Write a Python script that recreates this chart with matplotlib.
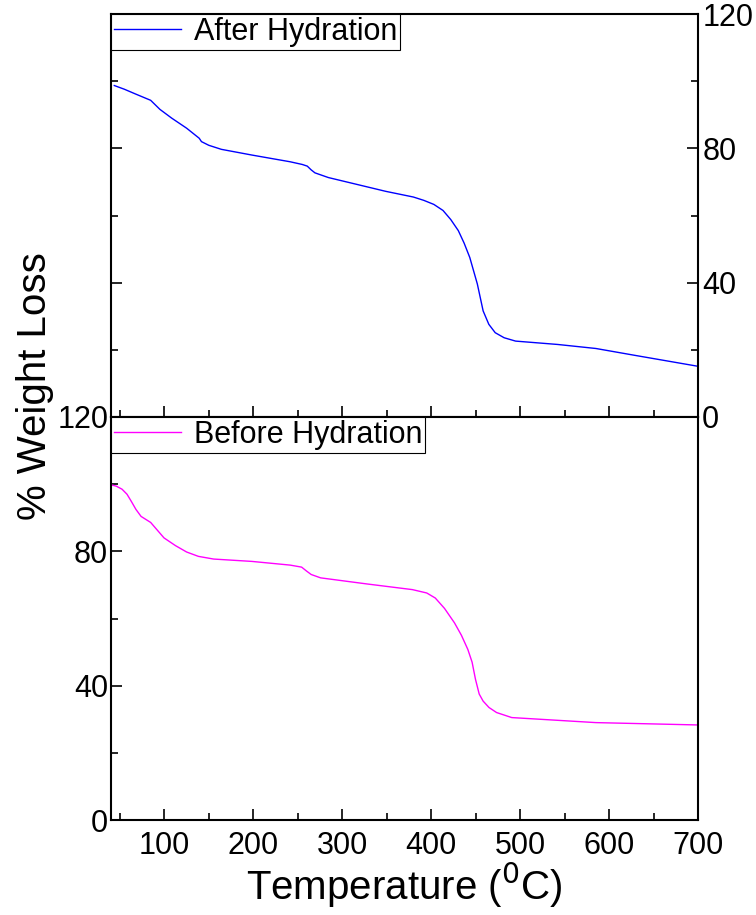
import numpy as np
import matplotlib.pyplot as plt
from matplotlib.ticker import MultipleLocator

plt.rcParams['font.family'] = ['Liberation Sans', 'DejaVu Sans']

# TGA curves
temp_after = [43.7, 55.0, 67.4, 84.6, 95.0, 108.2, 125.0, 139.2, 141.7, 150.0,
              164.1, 198.4, 241.4, 255.0, 260.7, 265.0, 269.3, 284.4, 348.8, 380.0,
              391.8, 403.0, 413.3, 422.0, 430.5, 437.0, 443.4, 451.9, 458.4, 464.8,
              472.0, 482.0, 494.9, 542.2, 585.2, 628.1, 700.0]
wt_after = [98.7, 97.6, 96.2, 94.3, 91.6, 89.0, 86.0, 83.0, 82.0, 80.9,
            79.7, 78.0, 76.0, 75.2, 74.7, 73.6, 72.7, 71.3, 67.2, 65.5,
            64.5, 63.3, 61.5, 58.8, 55.5, 51.8, 47.5, 39.6, 31.6, 27.6,
            25.1, 23.6, 22.6, 21.6, 20.4, 18.4, 15.1]

temp_before = [40.2, 46.0, 52.4, 58.0, 63.0, 68.0, 73.8, 84.6, 99.6, 112.5,
               125.0, 138.3, 155.4, 198.4, 241.4, 254.3, 260.0, 265.1, 275.7, 327.4,
               378.9, 395.0, 404.6, 415.0, 426.2, 434.0, 441.2, 446.0, 449.8, 454.0,
               458.4, 465.0, 473.5, 490.6, 585.2, 700.0]
wt_before = [99.8, 99.4, 98.5, 97.0, 94.8, 92.5, 90.4, 88.6, 84.0, 81.7,
             79.8, 78.5, 77.7, 77.0, 75.9, 75.3, 74.1, 73.1, 72.1, 70.3,
             68.6, 67.6, 66.1, 63.0, 58.7, 55.0, 50.8, 47.0, 41.9, 37.5,
             35.4, 33.5, 32.0, 30.5, 29.0, 28.3]

labels = ["After Hydration", "Before Hydration"]
colors = ["#0000ff", "#ff00ff"]

fig = plt.figure(figsize=(7.56, 9.15), dpi=100)
left, width = 111 / 756, 587 / 756
ax1 = fig.add_axes([left, 1 - 417 / 915, width, 403 / 915])
ax2 = fig.add_axes([left, 1 - 820 / 915, width, 403 / 915])

ax1.plot(temp_after, wt_after, color=colors[0], lw=1.0, label=labels[0])
ax2.plot(temp_before, wt_before, color=colors[1], lw=1.0, label=labels[1])

for ax in (ax1, ax2):
    ax.set_xlim(40, 700)
    ax.set_ylim(0, 120)
    ax.xaxis.set_major_locator(MultipleLocator(100))
    ax.xaxis.set_minor_locator(MultipleLocator(50))
    ax.yaxis.set_major_locator(MultipleLocator(40))
    ax.yaxis.set_minor_locator(MultipleLocator(20))
    for s in ax.spines.values():
        s.set_linewidth(1.5)
    leg = ax.legend(loc="upper left", borderaxespad=0, fontsize=22, handlelength=2.2,
                    fancybox=False, framealpha=1, borderpad=0.1, handletextpad=0.4)
    leg.get_frame().set_edgecolor("black")
    leg.get_frame().set_linewidth(0.8)

# top panel: labels on the right, x labels hidden
ax1.tick_params(axis="x", which="both", direction="in", bottom=True, top=False,
                labelbottom=False)
ax1.tick_params(axis="x", which="major", length=8, width=1.2)
ax1.tick_params(axis="x", which="minor", length=5, width=1.2)
ax1.tick_params(axis="y", which="both", direction="in", left=True, right=True,
                labelleft=False, labelright=True, labelsize=22, pad=3, width=1.2)
ax1.tick_params(axis="y", which="major", length=8)
ax1.tick_params(axis="y", which="minor", length=5)

# bottom panel
ax2.tick_params(axis="both", which="both", direction="in", top=False, right=False,
                labelsize=22, width=1.2)
ax2.tick_params(axis="both", which="major", length=8)
ax2.tick_params(axis="both", which="minor", length=5)
ax2.tick_params(axis="x", pad=8)
ax2.tick_params(axis="y", pad=2)

ax2.set_xlabel(r"Temperature ($^{0}$C)", fontsize=29, labelpad=0)
fig.text(35 / 756, 1 - 386 / 915, "% Weight Loss", rotation=90, fontsize=29,
         ha="center", va="center")

fig.savefig("out.png", dpi=100)
